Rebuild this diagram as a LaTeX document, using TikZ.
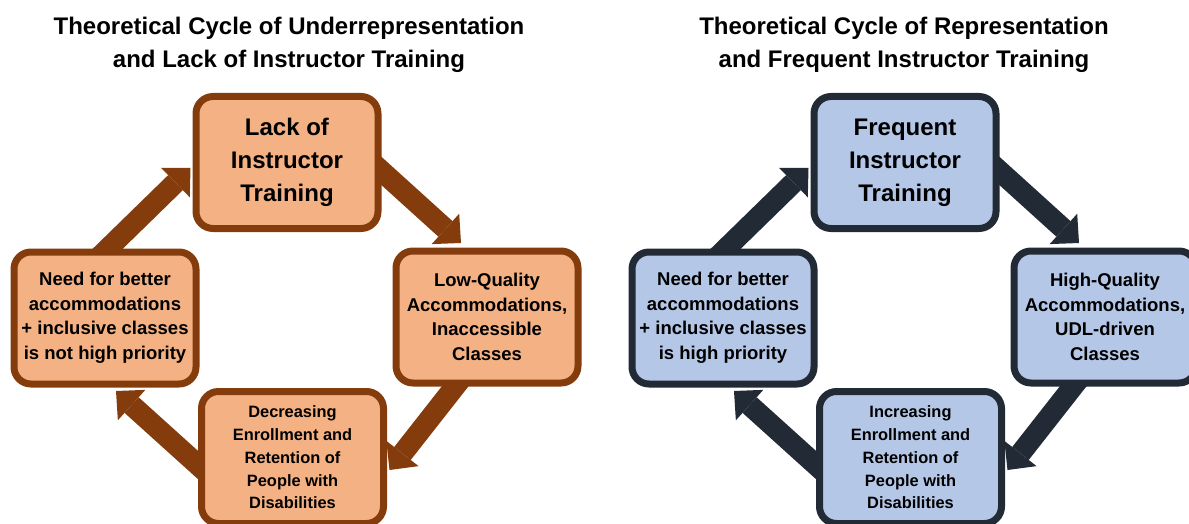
\documentclass[tikz,border=0pt]{standalone}
\usepackage{fontspec}
\setmainfont{Liberation Sans}
\usetikzlibrary{arrows.meta,positioning,backgrounds}

\definecolor{peach}{HTML}{F4B183}
\definecolor{rust}{HTML}{843C0C}
\definecolor{paleblue}{HTML}{B4C7E7}
\definecolor{slate}{HTML}{222A35}

\begin{document}
\begin{tikzpicture}[
        x=0.5pt, y=-0.5pt,
        title/.style={align=center, font=\bfseries\fontsize{12pt}{16.5pt}\selectfont},
        stage/.style={rectangle, rounded corners=8.5pt, line width=3.5pt, minimum width=91pt, minimum height=66pt, inner sep=1pt, align=center, font=\bfseries\fontsize{9.25pt}{12.25pt}\selectfont},
        bigstage/.style={stage, font=\bfseries\fontsize{12pt}{16.5pt}\selectfont},
        smallstage/.style={stage, font=\bfseries\fontsize{8.2pt}{11.35pt}\selectfont},
        under/.style={draw=rust, fill=peach},
        rep/.style={draw=slate, fill=paleblue},
        flow/.style={line width=10.5pt, shorten <=-8pt, -{Triangle[length=10.5pt, width=20.5pt, line width=0pt]}}
    ]

    \useasboundingbox (0,0) rectangle (1189,524);
    \clip (0,0) rectangle (1189,524);

    \node[title] (undertitle) at (289,45) {Theoretical Cycle of Underrepresentation\\and Lack of Instructor Training};
    \node[title] (reptitle) at (904,45) {Theoretical Cycle of Representation\\and Frequent Instructor Training};

    \node[bigstage, under] (lack) at (287,162.5) {Lack of\\Instructor\\Training};
    \node[stage, under] (lowq) at (487,317) {Low-Quality\\Accommodations,\\Inaccessible\\Classes};
    \node[smallstage, under] (decr) at (292.5,457.5) {Decreasing\\Enrollment and\\Retention of\\People with\\Disabilities};
    \node[stage, under] (needlow) at (105,318) {Need for better\\accommodations\\+ inclusive classes\\is not high priority};

    \node[bigstage, rep] (freq) at (905,162.5) {Frequent\\Instructor\\Training};
    \node[stage, rep] (highq) at (1105,317) {High-Quality\\Accommodations,\\UDL-driven\\Classes};
    \node[smallstage, rep] (incr) at (910.5,457.5) {Increasing\\Enrollment and\\Retention of\\People with\\Disabilities};
    \node[stage, rep] (needhigh) at (723,318) {Need for better\\accommodations\\+ inclusive classes\\is high priority};

    \begin{scope}[on background layer]
    \draw[flow, rust] ([xshift=1.5pt]needlow.north) -- ([xshift=-1pt, yshift=-2.75pt]lack.west);
    \draw[flow, rust] ([yshift=-4.25pt]lack.east) -- ([xshift=-13pt, yshift=2.25pt]lowq.north);
    \draw[flow, rust] ([xshift=-16pt]lowq.south) -- ([xshift=1.25pt, yshift=-6.25pt]decr.east);
    \draw[flow, rust] ([yshift=-3.75pt]decr.west) -- ([xshift=5.5pt, yshift=-1.75pt]needlow.south);

    \draw[flow, slate] ([xshift=1.5pt]needhigh.north) -- ([xshift=-1pt, yshift=-2.75pt]freq.west);
    \draw[flow, slate] ([yshift=-4.25pt]freq.east) -- ([xshift=-13pt, yshift=2.25pt]highq.north);
    \draw[flow, slate] ([xshift=-16pt]highq.south) -- ([xshift=1.25pt, yshift=-6.25pt]incr.east);
    \draw[flow, slate] ([yshift=-3.75pt]incr.west) -- ([xshift=5.5pt, yshift=-1.75pt]needhigh.south);
    \end{scope}

\end{tikzpicture}
\end{document}
